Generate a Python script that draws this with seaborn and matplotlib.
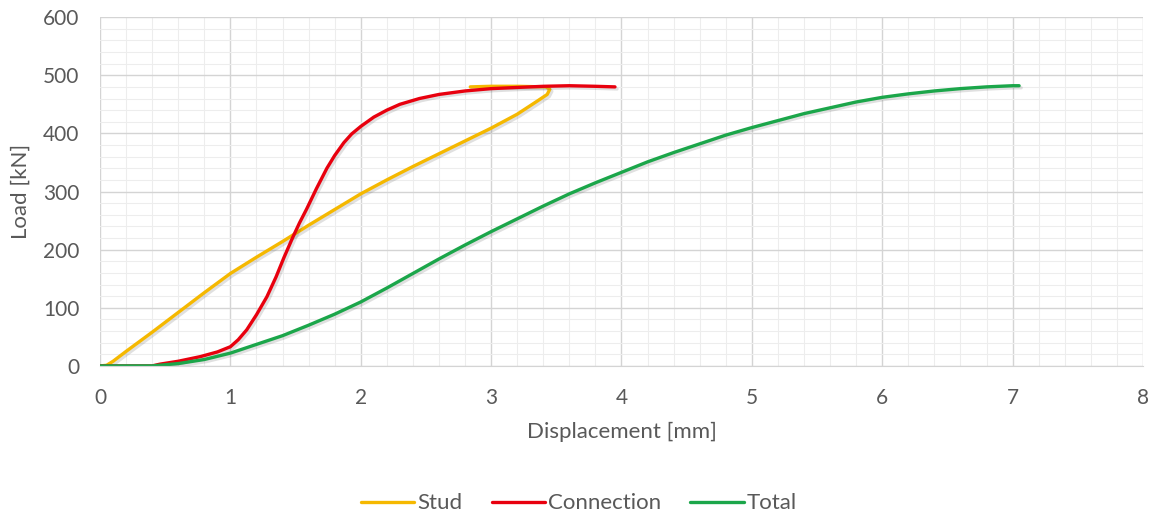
import matplotlib
matplotlib.use("Agg")
import matplotlib.pyplot as plt
import matplotlib.patheffects as pe
from matplotlib.ticker import MultipleLocator
import numpy as np
import pandas as pd
import seaborn as sns

# Load–displacement curves
stud_x = [0, 0.05, 0.1, 0.2, 0.4, 0.6, 0.8, 1.0, 1.2, 1.4, 1.6, 1.8, 2.0, 2.2, 2.4,
          2.6, 2.8, 3.0, 3.2, 3.35, 3.43, 3.45, 3.42, 3.2, 3.0, 2.84]
stud_y = [0, 1, 8, 25, 58, 92, 126, 159, 187, 214, 242, 269, 296, 320, 343,
          365, 387, 409, 433, 455, 467, 476, 480, 481, 481, 480]

conn_x = [0, 0.4, 0.46, 0.6, 0.77, 0.9, 1.0, 1.06, 1.125, 1.2, 1.28, 1.35, 1.41, 1.48,
          1.53, 1.585, 1.66, 1.74, 1.8, 1.87, 1.93, 2.0, 2.1, 2.2, 2.3, 2.45, 2.6,
          2.8, 3.0, 3.2, 3.4, 3.6, 3.8, 3.95]
conn_y = [0, 0, 3, 8, 16, 24, 33, 45, 62, 88, 119, 153, 186, 222,
          246, 270, 305, 340, 362, 384, 399, 412, 428, 440, 450, 460, 467,
          473, 477, 479, 481, 482, 481, 480]

total_x = [0, 0.4, 0.6, 0.8, 1.0, 1.2, 1.4, 1.6, 1.8, 2.0, 2.2, 2.4, 2.6, 2.8, 3.0,
           3.2, 3.4, 3.6, 3.8, 4.0, 4.2, 4.4, 4.6, 4.8, 5.0, 5.2, 5.4, 5.6, 5.8,
           6.0, 6.2, 6.4, 6.6, 6.8, 7.0, 7.05]
total_y = [0, 0, 4, 11, 22, 37, 52, 70, 89, 110, 134, 159, 184, 208, 231,
           253, 275, 296, 315, 333, 351, 367, 382, 397, 410, 422, 434, 444, 454,
           462, 468, 473, 477, 480, 482, 482]

series_names = ["Stud", "Connection", "Total"]
series_colors = ["#F5B800", "#E8000E", "#1BA64A"]

frames = []
for name, xs, ys in zip(series_names, [stud_x, conn_x, total_x], [stud_y, conn_y, total_y]):
    frames.append(pd.DataFrame({"Displacement": xs, "Load": ys, "Series": name,
                                "order": np.arange(len(xs))}))
df = pd.concat(frames, ignore_index=True)

sns.set_style("white")
plt.rcParams["font.family"] = ["Lato", "DejaVu Sans"]

fig = plt.figure(figsize=(11.58, 5.19), dpi=100)
ax = fig.add_axes([0.0864, 0.295, 0.9006, 0.672])

sns.lineplot(data=df, x="Displacement", y="Load", hue="Series",
             hue_order=series_names, palette=series_colors, sort=False,
             estimator=None, units="Series", linewidth=2.4, ax=ax, legend=False)

for line in ax.get_lines():
    line.set_solid_joinstyle("round")
    line.set_solid_capstyle("round")
    line.set_path_effects([pe.SimpleLineShadow(offset=(1.5, -1.5), alpha=0.18, shadow_color="#555555"),
                           pe.Normal()])

ax.set_xlim(0, 8)
ax.set_ylim(0, 600)
ax.xaxis.set_major_locator(MultipleLocator(1))
ax.xaxis.set_minor_locator(MultipleLocator(0.2))
ax.yaxis.set_major_locator(MultipleLocator(100))
ax.yaxis.set_minor_locator(MultipleLocator(20))
ax.grid(which="major", color="#D4D4D4", linewidth=1.0)
ax.grid(which="minor", color="#EDEDED", linewidth=0.8)
ax.set_axisbelow(True)
for side in ["top", "right", "left"]:
    ax.spines[side].set_visible(False)
ax.spines["bottom"].set_color("#D4D4D4")

ax.tick_params(axis="both", which="both", length=0, labelsize=15, labelcolor="#595959")
ax.tick_params(axis="x", pad=16)
ax.tick_params(axis="y", pad=15)
ax.set_xlabel("Displacement [mm]", fontsize=16, color="#595959", labelpad=10)
ax.set_ylabel("Load [kN]", fontsize=16, color="#595959", labelpad=9)

handles = [plt.Line2D([0], [0], color=c, linewidth=2.4) for c in series_colors]
fig.legend(handles, series_names, loc="center", bbox_to_anchor=(0.5, 0.03), ncol=3,
           frameon=False, fontsize=16, handlelength=2.4, handletextpad=0.15,
           columnspacing=1.3, labelcolor="#595959")

fig.savefig("out.png", dpi=100, facecolor="white")
